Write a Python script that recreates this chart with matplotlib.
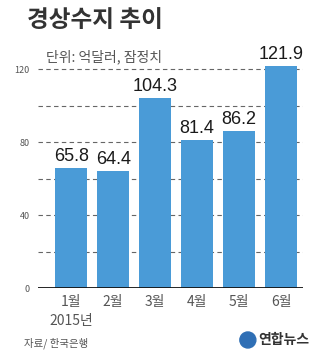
import matplotlib.pyplot as plt
from matplotlib.patches import Circle

plt.rcParams['font.family'] = ['Noto Sans CJK KR', 'DejaVu Sans']

months = ['1월', '2월', '3월', '4월', '5월', '6월']
values = [65.8, 64.4, 104.3, 81.4, 86.2, 121.9]
value_labels = ['65.8', '64.4', '104.3', '81.4', '86.2', '121.9']
major_ticks = [0, 40, 80, 120]
grid_levels = [20, 40, 60, 80, 100, 120]

bar_color = '#4a9bd7'
text_gray = '#555555'

fig = plt.figure(figsize=(3.19, 3.56), dpi=100)
fig.patch.set_facecolor('white')
ax = fig.add_axes([0.119, 0.191, 0.831, 0.64])

x = range(len(months))
ax.bar(x, values, width=0.76, color=bar_color, zorder=3)

for lvl in grid_levels:
    ax.axhline(lvl, color='#666666', lw=0.8, ls=(0, (4, 3)), zorder=1)
ax.axhline(0, color='#111111', lw=2.0, zorder=4)

for i, (v, s) in enumerate(zip(values, value_labels)):
    ax.text(i, v + 1.5, s, ha='center', va='bottom', fontsize=13,
            color='#1a1a1a', family=['Liberation Sans', 'DejaVu Sans'])

ax.set_xlim(-0.79, 5.52)
ax.set_ylim(0, 125)
ax.set_yticks(major_ticks)
ax.set_yticklabels([str(t) for t in major_ticks], fontsize=6.5, color=text_gray)
ax.tick_params(axis='y', length=0, pad=6)
ax.set_xticks(list(x))
ax.set_xticklabels(months, fontsize=10, color=text_gray)
ax.tick_params(axis='x', length=0, pad=5)
for sp in ax.spines.values():
    sp.set_visible(False)

fig.text(0.085, 0.945, '경상수지 추이', fontsize=17, fontweight='bold',
         color='#333333', va='center', ha='left')
fig.text(0.145, 0.840, '단위: 억달러, 잠정치', fontsize=10, color=text_gray,
         va='center', ha='left')
fig.text(0.222, 0.098, '2015년', fontsize=10, color=text_gray,
         va='center', ha='center')
fig.text(0.075, 0.037, '자료/ 한국은행', fontsize=7.5, color=text_gray,
         va='center', ha='left')

fig.patches.append(Circle((0.777 * 319, 0.045 * 356), 8, transform=None,
                          color='#2f6fb5'))
fig.text(0.808, 0.045, '연합뉴스', fontsize=10, fontweight='bold',
         color='#333333', va='center', ha='left')

fig.savefig('out.png', dpi=100, facecolor='white')
